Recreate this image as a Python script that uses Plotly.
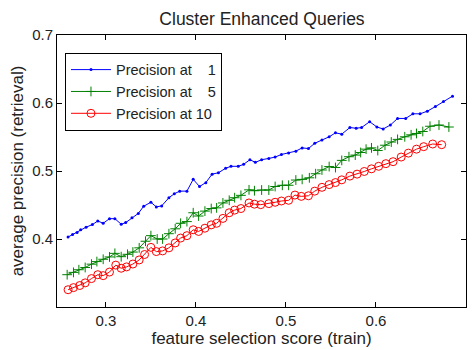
import plotly.graph_objects as go

# Precision at 1 (blue)
x_p1 = [0.258, 0.263, 0.268, 0.272, 0.278, 0.285, 0.291, 0.297, 0.304, 0.310,
        0.317, 0.322, 0.329, 0.336, 0.342, 0.350, 0.356, 0.362, 0.370, 0.376,
        0.382, 0.390, 0.397, 0.404, 0.411, 0.418, 0.425, 0.433, 0.439, 0.447,
        0.453, 0.460, 0.466, 0.473, 0.481, 0.488, 0.495, 0.503, 0.511, 0.518,
        0.525, 0.532, 0.540, 0.548, 0.555, 0.562, 0.571, 0.578, 0.584, 0.593,
        0.601, 0.608, 0.616, 0.624, 0.633, 0.641, 0.649, 0.657, 0.666, 0.675,
        0.685]
y_p1 = [0.4029, 0.4068, 0.4097, 0.4136, 0.4174, 0.4212, 0.4265, 0.4231, 0.4299, 0.4299,
        0.4217, 0.4241, 0.4313, 0.4376, 0.4482, 0.4540, 0.4472, 0.4487, 0.4607, 0.4665,
        0.4704, 0.4704, 0.4877, 0.4772, 0.4829, 0.4954, 0.4974, 0.5040, 0.5069, 0.5069,
        0.5098, 0.5166, 0.5127, 0.5166, 0.5185, 0.5205, 0.5243, 0.5263, 0.5292, 0.5340,
        0.5330, 0.5408, 0.5455, 0.5503, 0.5561, 0.5542, 0.5639, 0.5629, 0.5639, 0.5725,
        0.5647, 0.5618, 0.5676, 0.5773, 0.5773, 0.5841, 0.5841, 0.5879, 0.5947, 0.6023,
        0.6101]

# Precision at 5 (green)
x_p5 = [0.257, 0.264, 0.270, 0.277, 0.284, 0.290, 0.297, 0.304, 0.310, 0.317,
        0.324, 0.330, 0.337, 0.344, 0.350, 0.357, 0.363, 0.370, 0.377, 0.383,
        0.390, 0.397, 0.403, 0.410, 0.417, 0.423, 0.430, 0.437, 0.443, 0.450,
        0.459, 0.465, 0.473, 0.481, 0.488, 0.496, 0.503, 0.511, 0.518, 0.526,
        0.533, 0.540, 0.548, 0.555, 0.562, 0.570, 0.577, 0.583, 0.589, 0.595,
        0.602, 0.610, 0.617, 0.624, 0.632, 0.639, 0.645, 0.652, 0.660, 0.670,
        0.681]
y_p5 = [0.3475, 0.3509, 0.3548, 0.3581, 0.3630, 0.3668, 0.3702, 0.3736, 0.3789, 0.3740,
        0.3775, 0.3808, 0.3870, 0.3967, 0.4049, 0.4000, 0.4000, 0.4078, 0.4150, 0.4231,
        0.4256, 0.4386, 0.4338, 0.4410, 0.4448, 0.4458, 0.4530, 0.4569, 0.4607, 0.4642,
        0.4723, 0.4710, 0.4720, 0.4720, 0.4772, 0.4790, 0.4790, 0.4867, 0.4877, 0.4900,
        0.4960, 0.5015, 0.5065, 0.5051, 0.5156, 0.5210, 0.5234, 0.5272, 0.5321, 0.5340,
        0.5301, 0.5379, 0.5426, 0.5465, 0.5503, 0.5532, 0.5552, 0.5581, 0.5658, 0.5676,
        0.5647]

# Precision at 10 (red)
x_p10 = [0.258, 0.264, 0.271, 0.277, 0.284, 0.291, 0.297, 0.304, 0.311, 0.317,
         0.323, 0.330, 0.337, 0.343, 0.350, 0.356, 0.363, 0.370, 0.377, 0.383,
         0.390, 0.397, 0.403, 0.410, 0.417, 0.423, 0.430, 0.437, 0.443, 0.450,
         0.459, 0.465, 0.472, 0.481, 0.488, 0.495, 0.503, 0.510, 0.517, 0.525,
         0.532, 0.540, 0.548, 0.555, 0.562, 0.571, 0.579, 0.587, 0.595, 0.603,
         0.611, 0.619, 0.628, 0.636, 0.645, 0.653, 0.663, 0.673]
y_p10 = [0.3254, 0.3285, 0.3316, 0.3355, 0.3418, 0.3475, 0.3461, 0.3514, 0.3616, 0.3570,
         0.3590, 0.3632, 0.3692, 0.3772, 0.3877, 0.3815, 0.3825, 0.3870, 0.3942, 0.4014,
         0.4049, 0.4136, 0.4111, 0.4159, 0.4208, 0.4231, 0.4303, 0.4386, 0.4425, 0.4448,
         0.4530, 0.4512, 0.4505, 0.4520, 0.4540, 0.4559, 0.4569, 0.4646, 0.4627, 0.4636,
         0.4704, 0.4760, 0.4800, 0.4830, 0.4870, 0.4925, 0.4954, 0.4993, 0.5032, 0.5069,
         0.5108, 0.5137, 0.5205, 0.5263, 0.5321, 0.5358, 0.5397, 0.5387]

names = ["Precision at\u2007\u20071", "Precision at\u2007\u20075", "Precision at 10"]
x_ticks = [0.3, 0.4, 0.5, 0.6, 0.7]
y_ticks = [0.4, 0.5, 0.6, 0.7]

FONT = "Liberation Sans, Arial, sans-serif"

fig = go.Figure()
fig.add_trace(go.Scatter(x=x_p1, y=y_p1, mode="lines+markers", name=names[0],
                         legendgroup="a",
                         line=dict(color="#0000ff", width=1),
                         marker=dict(symbol="circle", size=3, color="#0000ff")))
fig.add_trace(go.Scatter(x=x_p5, y=y_p5, mode="lines+markers", name=names[1],
                         legendgroup="b",
                         line=dict(color="#008000", width=1),
                         marker=dict(symbol="cross-thin-open", size=7,
                                     line=dict(color="#008000", width=1))))
fig.add_trace(go.Scatter(x=x_p10, y=y_p10, mode="lines+markers", name=names[2],
                         legendgroup="c",
                         line=dict(color="#ff0000", width=1),
                         marker=dict(symbol="circle-open", size=8, color="#ff0000",
                                     line=dict(color="#ff0000", width=1))))

axis_common = dict(showline=True, linecolor="black", linewidth=1, mirror="allticks",
                   ticks="inside", ticklen=5, tickcolor="black", showgrid=False,
                   zeroline=False, tickfont=dict(size=15, color="#222"))

fig.update_layout(
    width=476, height=350,
    margin=dict(l=57, r=9, t=35, b=38),
    paper_bgcolor="white", plot_bgcolor="white",
    font=dict(family=FONT, color="#222"),
    title=dict(text="Cluster Enhanced Queries", x=0.5504, xanchor="center",
               y=0.945, yanchor="middle", font=dict(size=17.5, color="#222")),
    xaxis=dict(range=[0.2457, 0.7], tickvals=x_ticks, ticktext=["0.3", "0.4", "0.5", "0.6", "0.7"],
               title=dict(text="feature selection score (train)", font=dict(size=17), standoff=0),
               **axis_common),
    yaxis=dict(range=[0.3, 0.7], tickvals=y_ticks, ticktext=["0.4", "0.5", "0.6", "0.7"],
               title=dict(text="average precision (retrieval)", font=dict(size=17), standoff=4),
               **axis_common),
    legend=dict(x=0.0195, y=0.935, xanchor="left", yanchor="top",
                bordercolor="black", borderwidth=1, bgcolor="white",
                font=dict(size=14.5, color="#222"), tracegroupgap=10,
                itemwidth=40, traceorder="normal"),
)

fig.write_html("out.html", config={"displayModeBar": False},
               post_script="document.body.style.margin='0px';")
